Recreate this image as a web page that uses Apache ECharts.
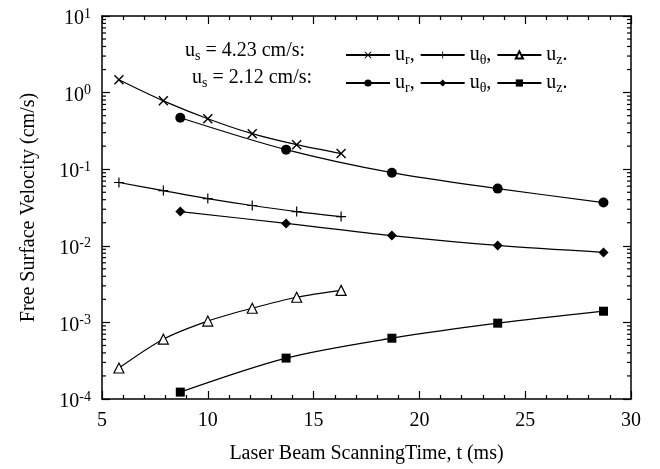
<!DOCTYPE html>
<html>
<head>
<meta charset="utf-8">
<script src="https://cdn.jsdelivr.net/npm/echarts@6/dist/echarts.min.js"></script>
<style>
  html, body { margin: 0; padding: 0; background: #fff; }
  #chart { width: 660px; height: 469px; }
</style>
</head>
<body>
<div id="chart"></div>
<script>
// scanning time (ms) for the two scanning speeds
const tA = [5.8, 7.9, 10.0, 12.1, 14.2, 16.3]
const tB = [8.7, 13.7, 18.7, 23.7, 28.7]
// us = 4.23 cm/s
const urA = [1.47, 0.78, 0.456, 0.291, 0.209, 0.16]
const uthA = [0.067, 0.0526, 0.0414, 0.0336, 0.028, 0.0241]
const uzA = [0.000254, 0.000604, 0.00104, 0.00153, 0.00213, 0.00262]
// us = 2.12 cm/s
const urB = [0.47, 0.18, 0.090, 0.0558, 0.0367]
const uthB = [0.028, 0.0196, 0.0136, 0.0101, 0.0082]
const uzB = [0.000123, 0.000342, 0.000622, 0.000977, 0.0014]
// log decades and minor tick multipliers
const decades = [-4, -3, -2, -1, 0]
const minorMult = [2, 3, 4, 5, 6, 7, 8, 9]

const FONT = 'Liberation Serif'

function pairs(xs, ys) {
  return xs.map(function (x, i) { return [x, ys[i]] })
}

// minor tick values of the log axis (x is not used, ticks go on both edges)
let minorVals = []
decades.forEach(function (e) {
  minorMult.forEach(function (m) {
    minorVals.push([6, Number((m * Math.pow(10, e)).toPrecision(3))])
  })
})

// symbols
const crossSym = 'path://M0,1L1,0L5,4L9,0L10,1L6,5L10,9L9,10L5,6L1,10L0,9L4,5Z'
const plusSym = 'path://M4.4,0L5.6,0L5.6,4.4L10,4.4L10,5.6L5.6,5.6L5.6,10L4.4,10L4.4,5.6L0,5.6L0,4.4L4.4,4.4Z'

const subRich = {
  a: { fontFamily: FONT, fontSize: 20, color: '#000', lineHeight: 24 },
  s: { fontFamily: FONT, fontSize: 14, color: '#000', lineHeight: 12, verticalAlign: 'bottom' }
}

const legendText = {
  ur1: '{a|u}{s|r}{a|,}',
  uth1: '{a|u}{s|θ}{a|,}',
  uz1: '{a|u}{s|z}{a|.}',
  ur2: '{a|u}{s|r}{a|,}',
  uth2: '{a|u}{s|θ}{a|,}',
  uz2: '{a|u}{s|z}{a|.}'
}

function mkSeries(name, data, symbol, size, empty) {
  return {
    name: name,
    type: 'line',
    data: data,
    smooth: 0.3,
    symbol: symbol,
    symbolSize: size,
    showAllSymbol: true,
    lineStyle: { color: '#000', width: 1.2 },
    itemStyle: empty
      ? { color: '#fff', borderColor: '#000', borderWidth: 1.2 }
      : { color: '#000', borderColor: '#000', borderWidth: 0 },
    emphasis: { disabled: true },
    z: 3
  }
}

const axisLine = { show: true, onZero: false, lineStyle: { color: '#000', width: 1.5 } }

function xAx(pos, showLabel) {
  return {
    type: 'value', position: pos, min: 5, max: 30, interval: 5,
    axisLine: axisLine,
    axisTick: { show: true, inside: true, length: 8, lineStyle: { color: '#000', width: 1.2 } },
    minorTick: { show: true, splitNumber: 5, length: 4, lineStyle: { color: '#000', width: 1.2 } },
    splitLine: { show: false },
    axisLabel: { show: showLabel, fontFamily: FONT, fontSize: 20, color: '#000', margin: 12 },
    name: showLabel ? 'Laser Beam ScanningTime, t (ms)' : '',
    nameLocation: 'middle', nameGap: 45,
    nameTextStyle: { fontFamily: FONT, fontSize: 20, color: '#000' }
  }
}

function yAx(pos, showLabel) {
  return {
    type: 'log', position: pos, min: 0.0001, max: 10, logBase: 10,
    axisLine: axisLine,
    axisTick: { show: true, inside: true, length: 8, lineStyle: { color: '#000', width: 1.2 } },
    splitLine: { show: false },
    axisLabel: {
      show: showLabel, margin: 11, padding: [6, 0, 0, 0],
      formatter: function (v) {
        return '{b|10}{p|' + Math.round(Math.log10(v)) + '}'
      },
      rich: {
        b: { fontFamily: FONT, fontSize: 20, color: '#000', lineHeight: 24 },
        p: { fontFamily: FONT, fontSize: 14, color: '#000', lineHeight: 12, verticalAlign: 'top' }
      }
    },
    name: showLabel ? 'Free Surface Velocity (cm/s)' : '',
    nameLocation: 'middle', nameGap: 63,
    nameTextStyle: { fontFamily: FONT, fontSize: 20, color: '#000' }
  }
}

function mkLegend(names, top) {
  return {
    data: names, left: 340, top: top, orient: 'horizontal',
    itemWidth: 44, itemHeight: 9, itemGap: 5,
    formatter: function (n) { return legendText[n] },
    textStyle: { rich: subRich, color: '#000' },
    selectedMode: false
  }
}

// minor ticks on the log axes, left and right
function minorTicks(params, api) {
  let v = api.value(1)
  let a = api.coord([5, v])
  let b = api.coord([30, v])
  let st = { stroke: '#000', lineWidth: 1.2 }
  return {
    type: 'group',
    children: [
      { type: 'line', shape: { x1: a[0], y1: a[1], x2: a[0] + 4, y2: a[1] }, style: st },
      { type: 'line', shape: { x1: b[0] - 4, y1: b[1], x2: b[0], y2: b[1] }, style: st }
    ]
  }
}

let option = {
  backgroundColor: '#fff',
  animation: false,
  grid: { left: 102, right: 29, top: 16, bottom: 69 },
  xAxis: [xAx('bottom', true), xAx('top', false)],
  yAxis: [yAx('left', true), yAx('right', false)],
  legend: [mkLegend(['ur1', 'uth1', 'uz1'], 40), mkLegend(['ur2', 'uth2', 'uz2'], 68)],
  graphic: [
    { type: 'text', x: 185, y: 51, style: { text: '{a|u}{s|s}{a| = 4.23 cm/s:}', rich: subRich, verticalAlign: 'middle' } },
    { type: 'text', x: 192, y: 78, style: { text: '{a|u}{s|s}{a| = 2.12 cm/s:}', rich: subRich, verticalAlign: 'middle' } }
  ],
  series: [
    mkSeries('ur1', pairs(tA, urA), crossSym, 10, false),
    mkSeries('uth1', pairs(tA, uthA), plusSym, 10, false),
    mkSeries('uz1', pairs(tA, uzA), 'triangle', 10, true),
    mkSeries('ur2', pairs(tB, urB), 'circle', 10, false),
    mkSeries('uth2', pairs(tB, uthB), 'diamond', 10, false),
    mkSeries('uz2', pairs(tB, uzB), 'rect', 9, false),
    {
      type: 'custom', name: 'ticks', data: minorVals, renderItem: minorTicks,
      xAxisIndex: 0, yAxisIndex: 0,
      silent: true, clip: false, z: 5
    }
  ]
}

let myChart = echarts.init(document.getElementById('chart'))
myChart.setOption(option)
</script>
</body>
</html>
